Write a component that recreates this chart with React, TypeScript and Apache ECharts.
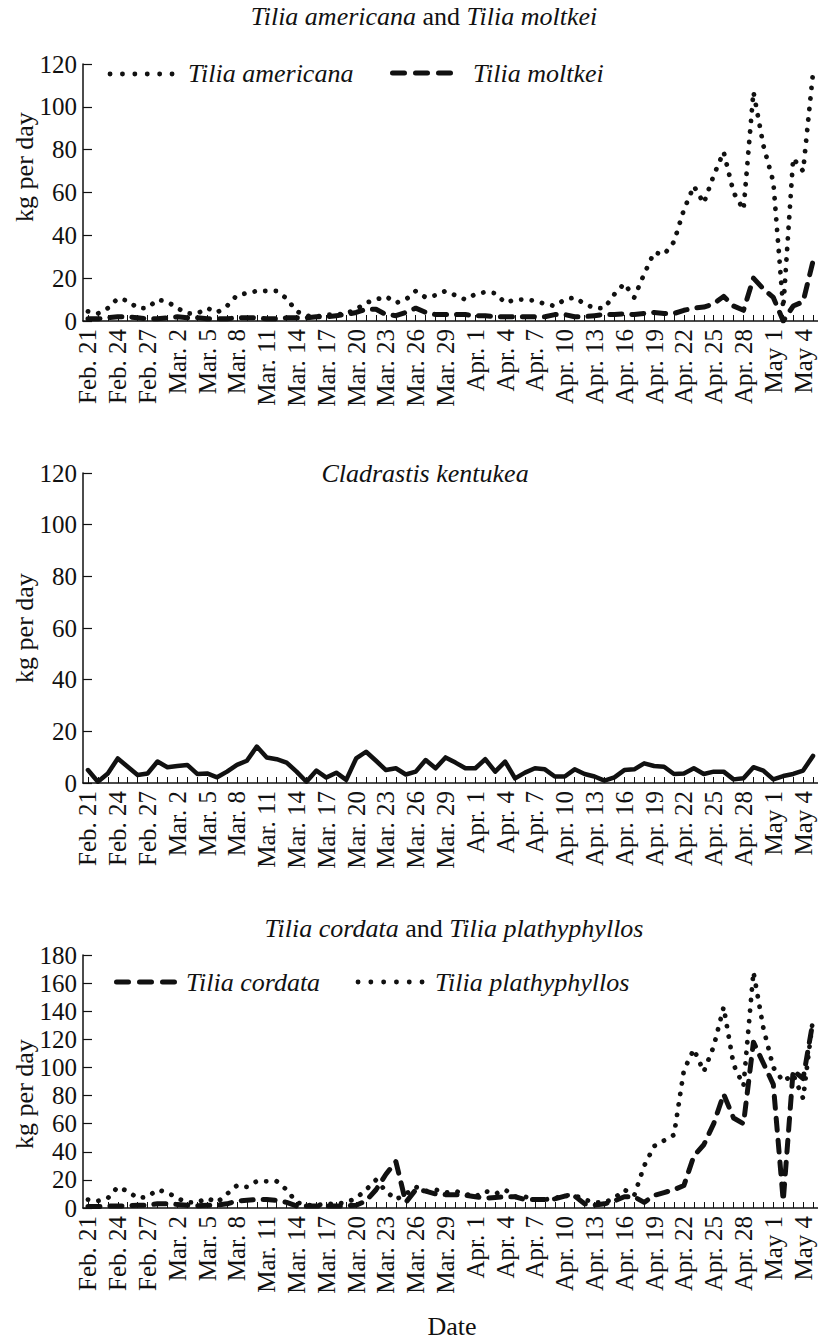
import React, { useEffect, useRef } from "react";
import * as echarts from "echarts";

const dates = [
  "Feb. 21", "Feb. 22", "Feb. 23", "Feb. 24", "Feb. 25", "Feb. 26", "Feb. 27", "Feb. 28",
  "Mar. 1", "Mar. 2", "Mar. 3", "Mar. 4", "Mar. 5", "Mar. 6", "Mar. 7", "Mar. 8", "Mar. 9", "Mar. 10",
  "Mar. 11", "Mar. 12", "Mar. 13", "Mar. 14", "Mar. 15", "Mar. 16", "Mar. 17", "Mar. 18", "Mar. 19", "Mar. 20",
  "Mar. 21", "Mar. 22", "Mar. 23", "Mar. 24", "Mar. 25", "Mar. 26", "Mar. 27", "Mar. 28", "Mar. 29", "Mar. 30", "Mar. 31",
  "Apr. 1", "Apr. 2", "Apr. 3", "Apr. 4", "Apr. 5", "Apr. 6", "Apr. 7", "Apr. 8", "Apr. 9", "Apr. 10",
  "Apr. 11", "Apr. 12", "Apr. 13", "Apr. 14", "Apr. 15", "Apr. 16", "Apr. 17", "Apr. 18", "Apr. 19", "Apr. 20",
  "Apr. 21", "Apr. 22", "Apr. 23", "Apr. 24", "Apr. 25", "Apr. 26", "Apr. 27", "Apr. 28", "Apr. 29", "Apr. 30",
  "May 1", "May 2", "May 3", "May 4", "May 5",
];

// Panel 1
const tiliaAmericana = [
  4.5, 3.5, 6, 10.5, 9.5, 6, 6, 10, 9, 6,
  3.5, 3.5, 6, 4, 7, 12, 13, 14, 14, 14,
  10.5, 4.5, 2.5, 2, 3, 3, 3.5, 5.5, 8.5, 10,
  11.5, 8.5, 10, 14, 11, 12, 14, 12, 10, 12.5,
  13.5, 13, 8.5, 10, 10, 9.5, 8, 7, 10, 11,
  8, 6, 6, 12.5, 17.5, 11, 22, 32, 31, 37,
  52, 63, 55, 68, 79, 60, 52, 107, 82, 65,
  6, 76, 70, 116,
];
const tiliaMoltkei = [
  1, 1, 1.5, 2, 2, 1.5, 1, 1, 1.5, 2,
  1.5, 1.5, 1, 1, 1, 1.5, 1.5, 1.5, 1, 1,
  1.5, 1.5, 1.5, 2, 2, 2.5, 3, 4, 5.5, 5.5,
  3, 2.5, 4, 6, 4, 3, 3, 3, 3, 2.5,
  2.5, 2, 2, 2, 2, 2, 2, 3, 3, 2,
  2, 2.5, 3, 3, 3.3, 3, 3.5, 4, 3.5, 3.5,
  5, 6, 6.5, 8, 11.5, 7, 5, 20, 15, 11,
  0, 7, 9, 28,
];

// Panel 2
const cladrastisKentukea = [
  5, 0.5, 3.7, 9.5, 6.3, 3.1, 3.7, 8.3, 6.1, 6.6,
  7.0, 3.5, 3.7, 2.2, 4.4, 7.0, 8.6, 14.1, 9.9, 9.2,
  7.9, 4.4, 0.5, 4.8, 2.1, 4.0, 1.2, 9.5, 12.1, 8.6,
  5.0, 5.7, 3.3, 4.4, 8.9, 5.7, 9.9, 7.9, 5.7, 5.7,
  9.2, 4.4, 8.3, 1.8, 4.0, 5.7, 5.3, 2.5, 2.5, 5.3,
  3.5, 2.5, 0.9, 2.2, 5.0, 5.3, 7.6, 6.6, 6.3, 3.5,
  3.7, 5.7, 3.5, 4.4, 4.4, 1.4, 1.8, 6.1, 4.8, 1.4,
  2.7, 3.5, 4.8, 10.5,
];

// Panel 3
const tiliaCordata = [
  1, 1, 1.5, 1.5, 1.5, 2, 2, 3, 3, 2.5,
  2, 1.5, 2, 2, 3, 5, 5.5, 6, 6, 5.5,
  4, 1.5, 1.5, 1.5, 1.5, 1.5, 1.5, 2, 5, 13,
  24, 33, 4, 13, 12, 10, 9.5, 9.5, 9, 8,
  7, 7.5, 8, 8, 6, 6, 6, 6.5, 8.5, 8.5,
  3, 2, 3, 5, 8, 8, 4, 9, 11, 13,
  16, 37, 45, 60, 81, 64, 60, 118, 103, 88,
  5, 98, 92, 133,
];
const tiliaPlathyphyllos = [
  6, 5, 7, 15, 12, 7, 8, 13, 11, 7,
  4, 4, 7, 4, 10, 16, 15, 19, 19, 19,
  13, 4, 2, 2, 3, 3, 4, 7, 13, 20,
  12, 6, 10, 15, 12, 13, 11, 12, 10, 8,
  12, 10, 13, 8, 8, 6, 6, 7, 9, 9,
  6, 4, 4, 7, 13, 9, 30, 44, 48, 52,
  98, 113, 97, 115, 143, 102, 87, 168, 128, 100,
  90, 95, 78, 135,
];

const yMaxTop = 120;
const yMaxBottom = 180;

const FONT = '"Liberation Serif", "DejaVu Serif", serif';
const INK = "#111111";
const DOTTED = [0.1, 10.5];
const DASHED = [12, 10];
const TXT = 26;

function xAxis(gi: number) {
  return {
    type: "category",
    gridIndex: gi,
    data: dates,
    boundaryGap: true,
    axisLine: { show: true, lineStyle: { color: INK, width: 1.5 } },
    axisTick: {
      show: true,
      inside: true,
      length: 6,
      interval: 0,
      alignWithLabel: true,
      lineStyle: { color: INK, width: 1 },
    },
    axisLabel: {
      interval: 2,
      rotate: 90,
      margin: 8,
      color: INK,
      fontFamily: FONT,
      fontSize: 25,
    },
    splitLine: { show: false },
  };
}

function yAxis(gi: number, max: number) {
  return {
    type: "value",
    gridIndex: gi,
    min: 0,
    max,
    interval: 20,
    axisLine: { show: true, lineStyle: { color: INK, width: 1.5 } },
    axisTick: { show: true, inside: true, length: 9, lineStyle: { color: INK, width: 1.2 } },
    axisLabel: { color: INK, fontFamily: FONT, fontSize: 25, margin: 6 },
    splitLine: { show: false },
  };
}

function lineSeries(xi: number, data: number[], dash: number[] | "solid", width: number) {
  return {
    type: "line",
    xAxisIndex: xi,
    yAxisIndex: xi,
    data,
    symbol: "none",
    smooth: false,
    lineStyle: { color: INK, width, type: dash, cap: "round", join: "round" },
  };
}

const italic = { fontStyle: "italic", fontSize: TXT, fontFamily: FONT, fill: INK };
const normal = { fontStyle: "normal", fontSize: TXT, fontFamily: FONT, fill: INK };

function centerText(x: number, y: number, text: string, isItalic: boolean) {
  return {
    type: "text",
    x,
    y,
    style: {
      text,
      fill: INK,
      fontSize: TXT,
      fontFamily: FONT,
      fontStyle: isItalic ? "italic" : "normal",
      align: "center",
      verticalAlign: "middle",
      rich: { i: italic, n: normal },
    },
  };
}

function leftText(x: number, y: number, text: string) {
  return {
    type: "text",
    x,
    y,
    style: {
      text,
      fill: INK,
      fontSize: TXT,
      fontFamily: FONT,
      fontStyle: "italic",
      align: "left",
      verticalAlign: "middle",
    },
  };
}

function yName(y: number) {
  return {
    type: "text",
    x: 24,
    y,
    rotation: Math.PI / 2,
    style: {
      text: "kg per day",
      fill: INK,
      fontSize: TXT,
      fontFamily: FONT,
      align: "center",
      verticalAlign: "middle",
    },
  };
}

function sample(x1: number, x2: number, y: number, dash: number[], width: number) {
  return {
    type: "line",
    shape: { x1, y1: y, x2, y2: y },
    style: { stroke: INK, lineWidth: width, lineDash: dash, lineCap: "round" },
  };
}

export default function App() {
  const ref = useRef<HTMLDivElement>(null);

  useEffect(() => {
    if (!ref.current) return;
    const chart = echarts.init(ref.current, null, { renderer: "svg" });
    chart.setOption({
      animation: false,
      backgroundColor: "#ffffff",
      grid: [
        { left: 83, top: 64, width: 740, height: 257 },
        { left: 83, top: 473, width: 740, height: 310 },
        { left: 83, top: 955, width: 740, height: 253 },
      ],
      xAxis: [xAxis(0), xAxis(1), xAxis(2)],
      yAxis: [yAxis(0, yMaxTop), yAxis(1, yMaxTop), yAxis(2, yMaxBottom)],
      series: [
        lineSeries(0, tiliaAmericana, DOTTED, 4.8),
        lineSeries(0, tiliaMoltkei, DASHED, 5),
        lineSeries(1, cladrastisKentukea, "solid", 4.5),
        lineSeries(2, tiliaPlathyphyllos, DOTTED, 4.8),
        lineSeries(2, tiliaCordata, DASHED, 5),
      ],
      graphic: [
        centerText(424, 16, "{i|Tilia americana}{n| and }{i|Tilia moltkei}", false),
        centerText(425, 473, "Cladrastis kentukea", true),
        centerText(454, 928, "{i|Tilia cordata}{n| and }{i|Tilia plathyphyllos}", false),
        centerText(452, 1326, "Date", false),
        yName(167),
        yName(628),
        yName(1094),
        sample(110, 172.1, 74, [0.1, 12.3], 4.8),
        leftText(188, 73, "Tilia americana"),
        sample(392.5, 450.5, 73, [12, 11], 5),
        leftText(473, 73, "Tilia moltkei"),
        sample(116.5, 174.5, 982, [12, 11], 5),
        leftText(186, 982, "Tilia cordata"),
        sample(358, 422.1, 982, [0.1, 12.7], 4.8),
        leftText(435, 982, "Tilia plathyphyllos"),
      ],
    });
    return () => chart.dispose();
  }, []);

  return (
    <div
      ref={ref}
      style={{ position: "absolute", left: 0, top: 0, width: 818, height: 1339, background: "#fff" }}
    />
  );
}
